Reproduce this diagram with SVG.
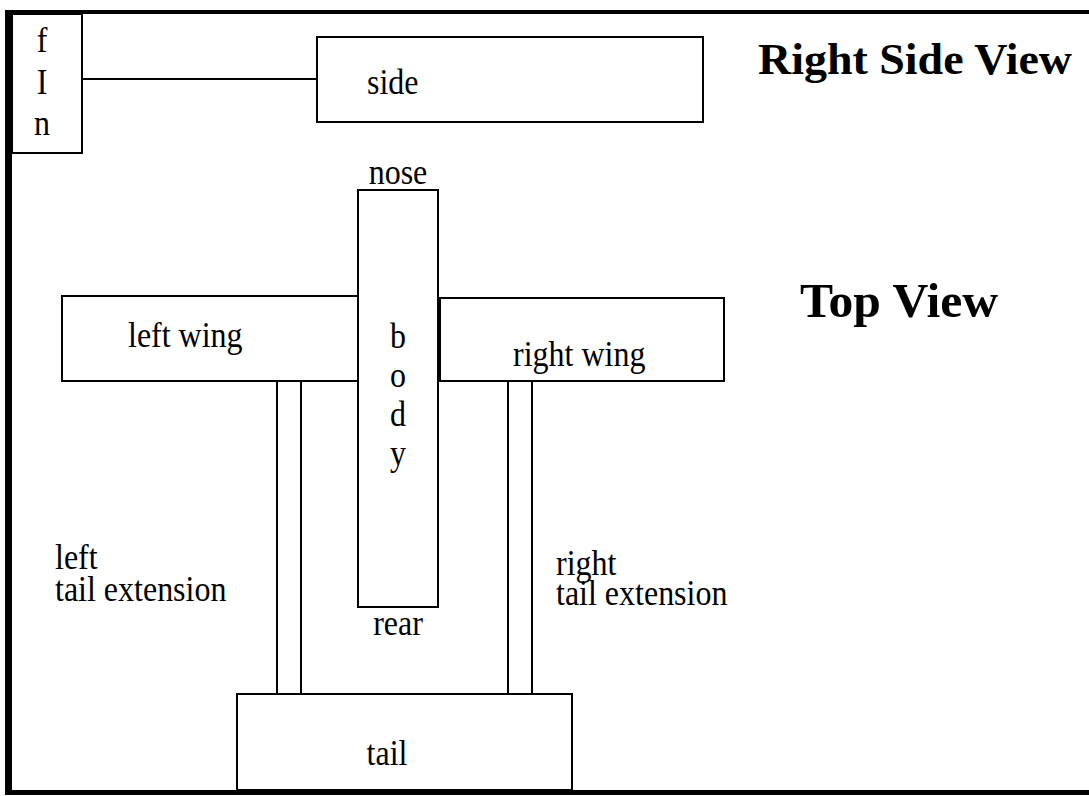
<svg xmlns="http://www.w3.org/2000/svg" width="1089" height="796" viewBox="0 0 1089 796">
<style>
.box{fill:#fff;stroke:#000;stroke-width:2}
.t{font-family:"Liberation Serif","Times New Roman",serif;font-size:32px;fill:#000}
.m{text-anchor:middle}
.h{font-family:"Liberation Serif","Times New Roman",serif;font-weight:bold;fill:#000}
.frame{stroke:#000;fill:none}
</style>
<rect width="1089" height="796" fill="#fff"/>
<g id="frame">
<line class="frame" x1="5" y1="12" x2="1089" y2="12" stroke-width="4"/>
<line class="frame" x1="8.5" y1="10" x2="8.5" y2="795" stroke-width="7"/>
<line class="frame" x1="5" y1="792.5" x2="1089" y2="792.5" stroke-width="5"/>
</g>
<g id="connectors">
<line x1="82" y1="79" x2="317" y2="79" stroke="#000" stroke-width="2"/>
</g>
<g id="fin">
<rect class="box" x="12" y="14" width="70" height="139"/>
<text class="t m" transform="translate(42,52) scale(1,1.15)">f</text>
<text class="t m" transform="translate(42,94) scale(1,1.15)">I</text>
<text class="t m" transform="translate(42,135) scale(1,1.15)">n</text>
</g>
<g id="side">
<rect class="box" x="317" y="37" width="386" height="85"/>
<text class="t" transform="translate(367,94) scale(1,1.15)">side</text>
</g>
<g id="title-side">
<text class="h" x="758" y="74" font-size="44" textLength="314" lengthAdjust="spacingAndGlyphs">Right Side View</text>
</g>
<g id="title-top">
<text class="h" x="800" y="317" font-size="48" textLength="198" lengthAdjust="spacingAndGlyphs">Top View</text>
</g>
<g id="left-tail-extension">
<rect class="box" x="277" y="381" width="24" height="313"/>
<text class="t" transform="translate(55,569) scale(1,1.15)">left</text>
<text class="t" transform="translate(55,601) scale(1,1.15)">tail extension</text>
</g>
<g id="right-tail-extension">
<rect class="box" x="508" y="381" width="24" height="313"/>
<text class="t" transform="translate(556,575) scale(1,1.15)">right</text>
<text class="t" transform="translate(556,605) scale(1,1.15)">tail extension</text>
</g>
<g id="left-wing">
<rect class="box" x="62" y="296" width="296" height="85"/>
<text class="t" transform="translate(128,347) scale(1,1.15)">left wing</text>
</g>
<g id="right-wing">
<rect class="box" x="440" y="298" width="284" height="83"/>
<text class="t" transform="translate(513,366) scale(1,1.15)">right wing</text>
</g>
<g id="body">
<rect class="box" x="358" y="190" width="80" height="417"/>
<text class="t m" transform="translate(398,184) scale(1,1.15)">nose</text>
<text class="t m" transform="translate(398,348) scale(1,1.15)">b</text>
<text class="t m" transform="translate(398,387) scale(1,1.15)">o</text>
<text class="t m" transform="translate(398,426) scale(1,1.15)">d</text>
<text class="t m" transform="translate(398,465) scale(1,1.15)">y</text>
<text class="t m" transform="translate(398,635) scale(1,1.15)">rear</text>
</g>
<g id="tail">
<rect class="box" x="237" y="694" width="335" height="96"/>
<text class="t m" transform="translate(387,765) scale(1,1.15)">tail</text>
</g>
</svg>
